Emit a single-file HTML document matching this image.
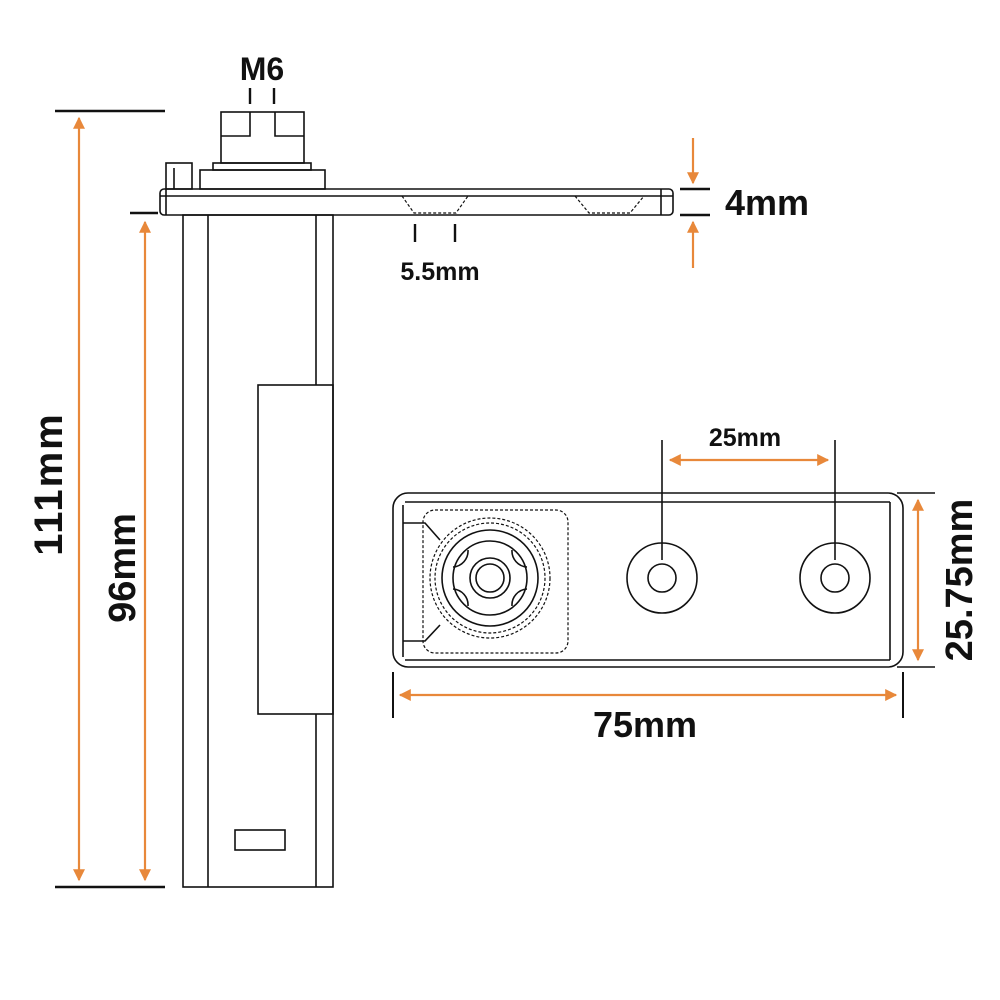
<!DOCTYPE html>
<html><head><style>html,body{margin:0;padding:0;background:#fff}svg{display:block}</style></head>
<body>
<svg width="1000" height="1000" viewBox="0 0 1000 1000" xmlns="http://www.w3.org/2000/svg" font-family="Liberation Sans, Arial, sans-serif" font-weight="bold">
<defs>
<marker id="a" viewBox="0 0 10 10" refX="9" refY="5" markerWidth="13" markerHeight="12" orient="auto-start-reverse" markerUnits="userSpaceOnUse"><path d="M0,0 L10,5 L0,10 z" fill="#e8883a"/></marker>
</defs>
<g fill="none" stroke="#111" stroke-width="1.6">
<rect x="183" y="215" width="150" height="672"/>
<line x1="208" y1="215" x2="208" y2="887"/>
<line x1="316" y1="215" x2="316" y2="385"/>
<line x1="316" y1="714" x2="316" y2="887"/>
<rect x="258" y="385" width="75" height="329"/>
<rect x="235" y="830" width="50" height="20"/>
<rect x="160" y="189" width="513" height="26" rx="4"/>
<line x1="160" y1="196" x2="673" y2="196"/>
<line x1="166" y1="189" x2="166" y2="215"/>
<line x1="661" y1="189" x2="661" y2="215"/>
<rect x="166" y="163" width="26" height="26"/>
<line x1="174" y1="168" x2="174" y2="189"/>
<rect x="200" y="170" width="125" height="19"/>
<rect x="213" y="163" width="98" height="7"/>
<rect x="221" y="112" width="83" height="51"/>
<polyline points="221,136 250,136 250,112"/>
<polyline points="304,136 275,136 275,112"/>
<g stroke-dasharray="3,2" stroke-width="1.2">
<polyline points="402,196 414,213 456,213 468,196"/>
<polyline points="575,196 589,213 630,213 644,196"/>
</g>
<line x1="250" y1="88" x2="250" y2="104" stroke-width="2.4"/>
<line x1="274" y1="88" x2="274" y2="104" stroke-width="2.4"/>
<line x1="415" y1="224" x2="415" y2="242" stroke-width="2.4"/>
<line x1="455" y1="224" x2="455" y2="242" stroke-width="2.4"/>
<line x1="55" y1="111" x2="165" y2="111" stroke-width="2.4"/>
<line x1="55" y1="887" x2="165" y2="887" stroke-width="2.4"/>
<line x1="130" y1="213" x2="158" y2="213" stroke-width="2.4"/>
<line x1="680" y1="189" x2="710" y2="189" stroke-width="2.4"/>
<line x1="680" y1="215" x2="710" y2="215" stroke-width="2.4"/>
<rect x="393" y="493" width="510" height="174" rx="15"/>
<line x1="405" y1="502" x2="890" y2="502"/>
<line x1="405" y1="660" x2="890" y2="660"/>
<line x1="403" y1="505" x2="403" y2="657"/>
<line x1="890" y1="502" x2="890" y2="660"/>
<polyline points="403,523 425,523 440,540"/>
<polyline points="403,641 425,641 440,625"/>
<circle cx="662" cy="578" r="35"/>
<circle cx="662" cy="578" r="14"/>
<circle cx="835" cy="578" r="35"/>
<circle cx="835" cy="578" r="14"/>
<circle cx="490" cy="578" r="48"/>
<circle cx="490" cy="578" r="37"/>
<circle cx="490" cy="578" r="20"/>
<circle cx="490" cy="578" r="14"/>
<path d="M468,550 a16,16 0 0 1 -15,17 M512,550 a16,16 0 0 0 15,17 M468,606 a16,16 0 0 0 -15,-17 M512,606 a16,16 0 0 1 15,-17"/>
<g stroke-dasharray="3,2" stroke-width="1.2">
<rect x="423" y="510" width="145" height="143" rx="12"/>
<circle cx="490" cy="578" r="55"/>
<circle cx="490" cy="578" r="60"/>
</g>
<line x1="662" y1="440" x2="662" y2="560"/>
<line x1="835" y1="440" x2="835" y2="560"/>
<line x1="897" y1="493" x2="935" y2="493"/>
<line x1="897" y1="667" x2="935" y2="667"/>
<line x1="393" y1="672" x2="393" y2="718" stroke-width="2"/>
<line x1="903" y1="672" x2="903" y2="718" stroke-width="2"/>
</g>
<g stroke="#e8883a" stroke-width="2.2" fill="none">
<line x1="79" y1="118" x2="79" y2="880" marker-start="url(#a)" marker-end="url(#a)"/>
<line x1="145" y1="222" x2="145" y2="880" marker-start="url(#a)" marker-end="url(#a)"/>
<line x1="693" y1="138" x2="693" y2="183" marker-end="url(#a)"/>
<line x1="693" y1="268" x2="693" y2="222" marker-end="url(#a)"/>
<line x1="670" y1="460" x2="828" y2="460" marker-start="url(#a)" marker-end="url(#a)"/>
<line x1="918" y1="500" x2="918" y2="660" marker-start="url(#a)" marker-end="url(#a)"/>
<line x1="400" y1="695" x2="896" y2="695" marker-start="url(#a)" marker-end="url(#a)"/>
</g>
<g fill="#111">
<text x="262" y="80" font-size="32" text-anchor="middle">M6</text>
<text x="440" y="280" font-size="25" text-anchor="middle">5.5mm</text>
<text x="725" y="215" font-size="36">4mm</text>
<text x="745" y="446" font-size="25" text-anchor="middle">25mm</text>
<text x="645" y="737" font-size="36" text-anchor="middle">75mm</text>
<text transform="translate(62,484) rotate(-90)" font-size="40" text-anchor="middle" letter-spacing="2">111mm</text>
<text transform="translate(135,568) rotate(-90)" font-size="38" text-anchor="middle">96mm</text>
<text transform="translate(972,580) rotate(-90)" font-size="38" text-anchor="middle">25.75mm</text>
</g>
</svg>
</body></html>
